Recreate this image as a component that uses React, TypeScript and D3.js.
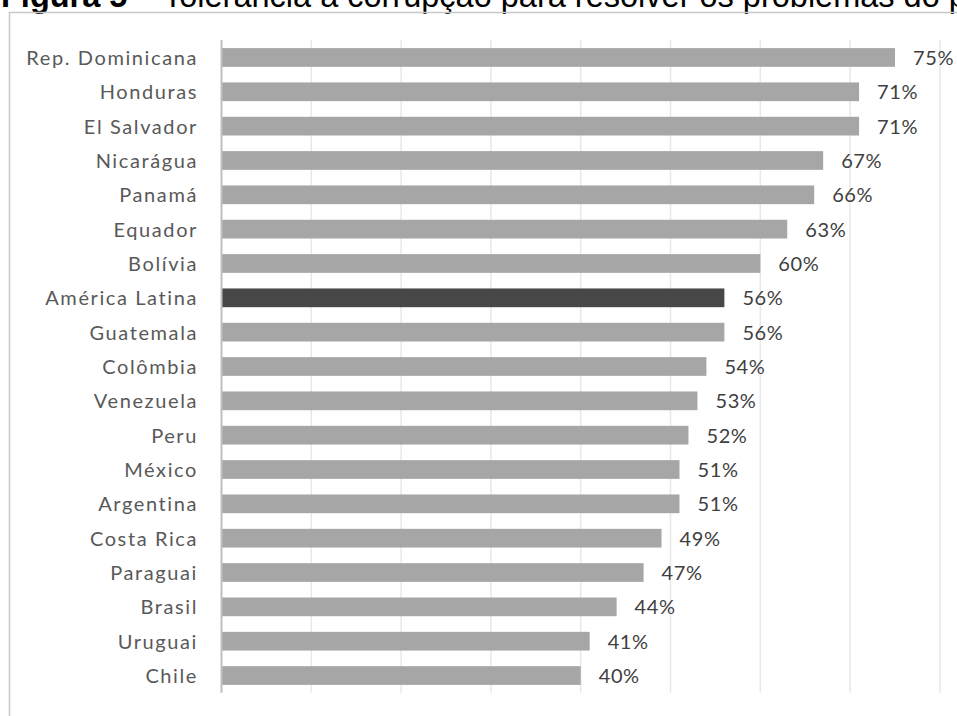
import React from "react";
import * as d3 from "d3";

const categories = [
  "Rep. Dominicana", "Honduras", "El Salvador", "Nicarágua", "Panamá", "Equador",
  "Bolívia", "América Latina", "Guatemala", "Colômbia", "Venezuela", "Peru",
  "México", "Argentina", "Costa Rica", "Paraguai", "Brasil", "Uruguai", "Chile",
];
const values = [75, 71, 71, 67, 66, 63, 60, 56, 56, 54, 53, 52, 51, 51, 49, 47, 44, 41, 40];
const highlight = "América Latina";
const gridTicks = [10, 20, 30, 40, 50, 60, 70, 80];
const titleBold = "Figura 5";
const titleRest = " – Tolerância à corrupção para resolver os problemas do país";

const W = 957;
const H = 716;

export default function App() {
  const x = d3.scaleLinear().domain([0, 100]).range([221.5, 221.5 + 898]);
  const y = d3.scaleBand<string>().domain(categories).range([40.3, 692.7]).paddingInner(0.455).paddingOuter(0.2275);
  const font = "Lato, 'Open Sans', sans-serif";
  return (
    <svg width={W} height={H} style={{ position: "absolute", left: 0, top: 0, background: "#fff" }}>
      <text x={1} y={6.5} fontFamily="'Liberation Sans', Arial, sans-serif" fontSize={32.5} fill="#000">
        <tspan fontWeight="bold">{titleBold}</tspan>
        <tspan>{titleRest}</tspan>
      </text>
      <rect x={9.5} y={12.5} width={W + 20} height={H + 20} fill="none" stroke="#c8c8c8" strokeWidth={1.5} />
      {gridTicks.map((t) => (
        <line key={t} x1={x(t)} x2={x(t)} y1={40} y2={692.7} stroke="#e8e8e8" strokeWidth={1.5} />
      ))}
      {categories.map((c, i) => {
        const v = values[i];
        const yy = y(c)!;
        const bh = y.bandwidth();
        return (
          <g key={c}>
            <rect x={x(0)} y={yy} width={x(v) - x(0)} height={bh} fill={c === highlight ? "#474747" : "#a6a6a6"} />
            <text x={x(v) + 18} y={yy + bh / 2} dy="0.38em" fontFamily={font} fontSize={20} letterSpacing={0.6} fill="#404040">
              {v}%
            </text>
            <text x={198} y={yy + bh / 2} dy="0.38em" textAnchor="end" fontFamily={font} fontSize={20} letterSpacing={1.6} fill="#595959">
              {c}
            </text>
          </g>
        );
      })}
      <line x1={x(0)} x2={x(0)} y1={40} y2={692.7} stroke="#bfbfbf" strokeWidth={2} />
    </svg>
  );
}
